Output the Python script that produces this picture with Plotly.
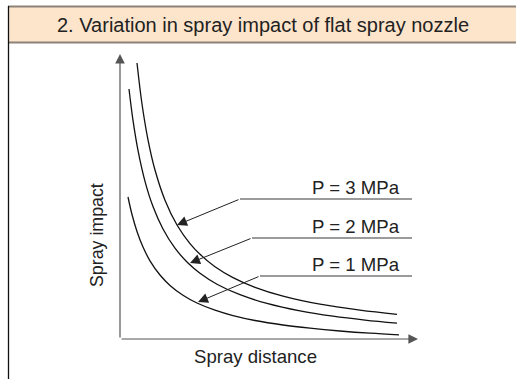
import plotly.graph_objects as go

# Spray impact vs spray distance (arbitrary units) for three pump pressures
dist_p3 = [1.7, 2.2, 2.8, 3.5, 4.5, 5.7, 7.0, 8.0, 9.5, 11.3, 13.5, 16.3, 20.0, 24.0, 27.7]
impact_p3 = [27.60, 23.50, 19.92, 16.90, 13.88, 11.40, 9.54, 8.47, 7.23, 6.14, 5.17, 4.29, 3.48, 2.88, 2.46]

dist_p2 = [0.9, 1.3, 1.8, 2.5, 3.3, 4.3, 5.5, 6.8, 8.0, 9.7, 12.0, 14.7, 18.0, 21.3, 24.5, 27.7]
impact_p2 = [25.00, 21.86, 18.86, 15.77, 13.25, 11.00, 9.08, 7.60, 6.58, 5.48, 4.43, 3.56, 2.81, 2.28, 1.89, 1.58]

dist_p1 = [0.8, 1.2, 1.7, 2.3, 3.0, 4.0, 5.0, 6.3, 7.7, 9.5, 11.3, 13.5, 16.3, 19.0, 22.0, 25.0, 27.9]
impact_p1 = [14.20, 12.45, 10.75, 9.19, 7.82, 6.40, 5.36, 4.38, 3.60, 2.88, 2.34, 1.85, 1.40, 1.08, 0.80, 0.58, 0.42]

labels = ["P = 3 MPa", "P = 2 MPa", "P = 1 MPa"]
# leader line: shelf start x, shelf end x, shelf y, arrow tip (x, y) on the curve, label position
shelf_x0 = [12.0, 13.2, 14.0]
shelf_x1 = [29.2, 29.2, 29.2]
shelf_y = [14.0, 10.1, 6.3]
tip_x = [5.7, 7.0, 7.8]
tip_y = [11.4, 7.6, 3.7]
label_x = [28.2, 28.2, 28.2]
label_y = [15.2, 11.3, 7.5]

title = "2. Variation in spray impact of flat spray nozzle"
x_title = "Spray distance"
y_title = "Spray impact"

x_axis_end = 29.8
y_axis_end = 28.5

FONT = "Liberation Sans, Arial, Helvetica, sans-serif"
W, H = 516, 379

fig = go.Figure()

for xs, ys in [(dist_p3, impact_p3), (dist_p2, impact_p2), (dist_p1, impact_p1)]:
    fig.add_trace(go.Scatter(x=xs, y=ys, mode="lines",
                             line=dict(color="#111111", width=1.3, shape="spline", smoothing=1.0),
                             hoverinfo="skip", showlegend=False))

# horizontal shelves under the pressure labels
for x0, x1, y in zip(shelf_x0, shelf_x1, shelf_y):
    fig.add_trace(go.Scatter(x=[x0, x1], y=[y, y], mode="lines",
                             line=dict(color="#7a7a7a", width=1.3),
                             hoverinfo="skip", showlegend=False))

annotations = []
# leader arrows from the shelves to the curves
for x0, y, tx, ty in zip(shelf_x0, shelf_y, tip_x, tip_y):
    annotations.append(dict(x=tx, y=ty, ax=x0, ay=y, xref="x", yref="y", axref="x", ayref="y",
                            text="", showarrow=True, arrowhead=2, arrowsize=2.0,
                            arrowwidth=1.0, arrowcolor="#222222"))
for lab, lx, ly in zip(labels, label_x, label_y):
    annotations.append(dict(x=lx, y=ly, xref="x", yref="y", text=lab, showarrow=False,
                            xanchor="right", yanchor="middle",
                            font=dict(family=FONT, size=18.6, color="#222222")))

# axes with arrowheads
annotations.append(dict(x=x_axis_end, y=0, ax=0, ay=0, xref="x", yref="y", axref="x", ayref="y",
                        text="", showarrow=True, arrowhead=2, arrowsize=1.6, arrowwidth=1.2,
                        arrowcolor="#555555"))
annotations.append(dict(x=0, y=y_axis_end, ax=0, ay=0, xref="x", yref="y", axref="x", ayref="y",
                        text="", showarrow=True, arrowhead=2, arrowsize=1.6, arrowwidth=1.2,
                        arrowcolor="#555555"))

annotations.append(dict(x=13.5, y=-1.7, xref="x", yref="y", text=x_title, showarrow=False,
                        xanchor="center", yanchor="middle",
                        font=dict(family=FONT, size=18.6, color="#222222")))
annotations.append(dict(x=-2.3, y=10.4, xref="x", yref="y", text=y_title, showarrow=False,
                        textangle=-90, xanchor="center", yanchor="middle",
                        font=dict(family=FONT, size=17.8, color="#222222")))

# header band title
annotations.append(dict(x=263 / W, y=1 - 25 / H, xref="paper", yref="paper", text=title,
                        showarrow=False, xanchor="center", yanchor="middle",
                        font=dict(family=FONT, size=20, color="#222222")))

shapes = [
    dict(type="rect", xref="paper", yref="paper", x0=8 / W, x1=1.0, y0=1 - 42.5 / H, y1=1 - 6.5 / H,
         fillcolor="#fde5cc", line=dict(width=0), layer="below"),
    dict(type="line", xref="paper", yref="paper", x0=8 / W, x1=1.0, y0=1 - 6.5 / H, y1=1 - 6.5 / H,
         line=dict(color="#8c8278", width=2)),
    dict(type="line", xref="paper", yref="paper", x0=8 / W, x1=1.0, y0=1 - 42.5 / H, y1=1 - 42.5 / H,
         line=dict(color="#8c8278", width=2)),
    dict(type="line", xref="paper", yref="paper", x0=8.5 / W, x1=8.5 / W, y0=0, y1=1 - 6 / H,
         line=dict(color="#111111", width=1.3)),
]

fig.update_layout(
    width=W, height=H,
    margin=dict(l=0, r=0, t=0, b=0),
    paper_bgcolor="white", plot_bgcolor="white",
    xaxis=dict(range=[-12, 39.6], visible=False, fixedrange=True),
    yaxis=dict(range=[-4, 33.9], visible=False, fixedrange=True),
    annotations=annotations, shapes=shapes,
    showlegend=False,
)

fig.write_html("out.html")
